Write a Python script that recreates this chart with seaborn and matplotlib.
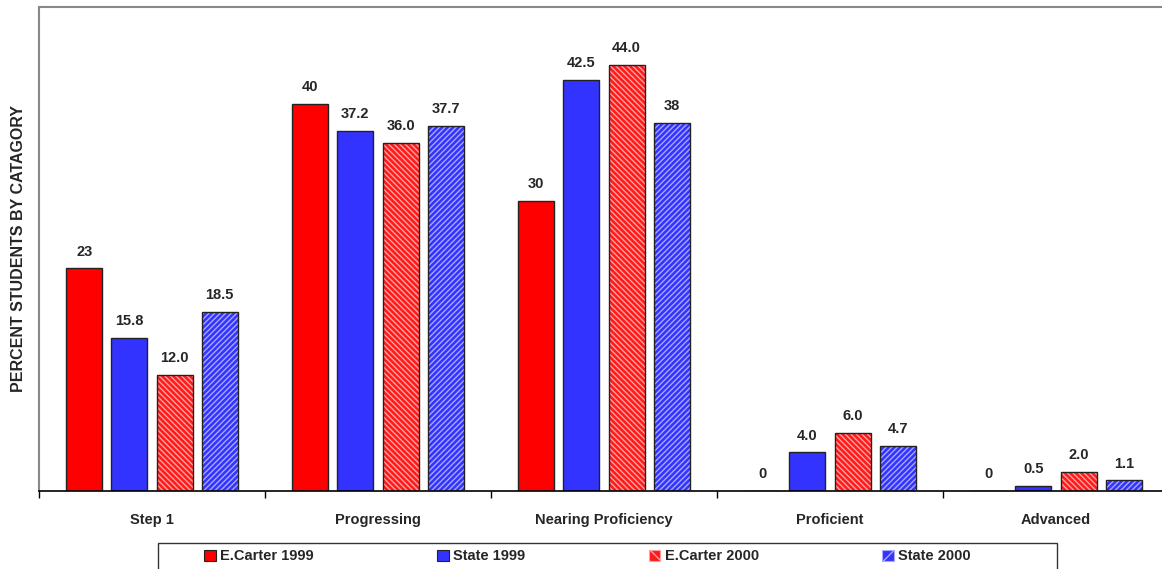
import pandas as pd
import matplotlib.pyplot as plt
import seaborn as sns
from matplotlib import patches

categories = ['Step 1', 'Progressing', 'Nearing Proficiency', 'Proficient', 'Advanced']
series = ['E.Carter 1999', 'State 1999', 'E.Carter 2000', 'State 2000']
carter_1999 = [23, 40, 30, 0, 0]
state_1999 = [15.8, 37.2, 42.5, 4.0, 0.5]
carter_2000 = [12.0, 36.0, 44.0, 6.0, 2.0]
state_2000 = [18.5, 37.7, 38, 4.7, 1.1]
labels = [['23', '40', '30', '0', '0'],
          ['15.8', '37.2', '42.5', '4.0', '0.5'],
          ['12.0', '36.0', '44.0', '6.0', '2.0'],
          ['18.5', '37.7', '38', '4.7', '1.1']]

fills = ['#FF0000', '#3333FF', '#FF1A1A', '#3333FF']
hatches = [None, None, '\\\\\\\\\\\\', '//////']
hatch_colors = [None, None, '#FFA0A0', '#A8A8FF']

px = 1/100
sns.set_style('white')
plt.rcParams['font.family'] = ['Liberation Sans', 'DejaVu Sans']
plt.rcParams['hatch.linewidth'] = 1.0

df = pd.DataFrame({
    'category': categories * 4,
    'series': [s for s in series for _ in categories],
    'value': carter_1999 + state_1999 + carter_2000 + state_2000,
})

fig = plt.figure(figsize=(1162*px, 569*px), dpi=100)
ax = fig.add_axes([39/1162, 1 - 491/569, 1130/1162, 484/569])
sns.barplot(data=df, x='category', y='value', hue='series', order=categories,
            hue_order=series, palette=fills, width=0.8, gap=0.2, ax=ax,
            saturation=1, legend=False, edgecolor='#222222', linewidth=1)

handles = []
for i, cont in enumerate(ax.containers):
    for bar, lab in zip(cont, labels[i]):
        if hatches[i]:
            bar.set_hatch(hatches[i])
            bar.set_edgecolor(hatch_colors[i])
            bar.set_linewidth(0)
            ax.add_patch(patches.Rectangle((bar.get_x(), bar.get_y()), bar.get_width(),
                                           bar.get_height(), fill=False,
                                           edgecolor='#222222', linewidth=1, zorder=3))
        ax.annotate(lab, (bar.get_x() + bar.get_width()/2, bar.get_height()),
                    xytext=(0, 7), textcoords='offset points', ha='center',
                    va='bottom', fontsize=10.5, fontweight='bold')
    h = patches.Rectangle((0, 0), 1, 1, facecolor=fills[i], edgecolor='#222222',
                          linewidth=0.8)
    if hatches[i]:
        h.set_hatch(hatches[i][:3])
        h.set_edgecolor(hatch_colors[i])
    handles.append(h)

ax.set_ylim(0, 50)
ax.set_xlim(-0.5, 4.5)
ax.set_yticks([])
ax.set_xlabel('')
ax.set_ylabel('PERCENT STUDENTS BY CATAGORY', fontsize=11.5, fontweight='bold', labelpad=9)
ax.set_xticks(range(5))
ax.set_xticklabels(categories, fontsize=10.5, fontweight='bold')
ax.set_xticks([-0.5, 0.5, 1.5, 2.5, 3.5, 4.5], minor=True)
ax.tick_params(axis='x', which='major', length=0, pad=16)
ax.tick_params(axis='x', which='minor', length=5, width=1, color='black', direction='out', bottom=True)

for side in ['left', 'top']:
    ax.spines[side].set_color('#888888')
    ax.spines[side].set_linewidth(1.5)
ax.spines['right'].set_visible(False)
ax.spines['bottom'].set_color('black')
ax.spines['bottom'].set_linewidth(1.2)

# legend entries spread across, frame drawn separately
leg = fig.legend(handles, series, loc='upper left', ncol=4, mode='expand',
                 bbox_to_anchor=(200/1162, 1 - 545/569, 775/1162, 0.0),
                 bbox_transform=fig.transFigure, frameon=False,
                 prop={'weight': 'bold', 'size': 10.5}, handlelength=0.8,
                 handleheight=0.8, handletextpad=0.3, borderpad=0.3,
                 borderaxespad=0)
fig.patches.append(patches.Rectangle((158/1162, -0.02), 899/1162, 1 - 543/569 + 0.02,
                                     transform=fig.transFigure, fill=False,
                                     edgecolor='#333333', linewidth=1))

fig.savefig('out.png', dpi=100)
